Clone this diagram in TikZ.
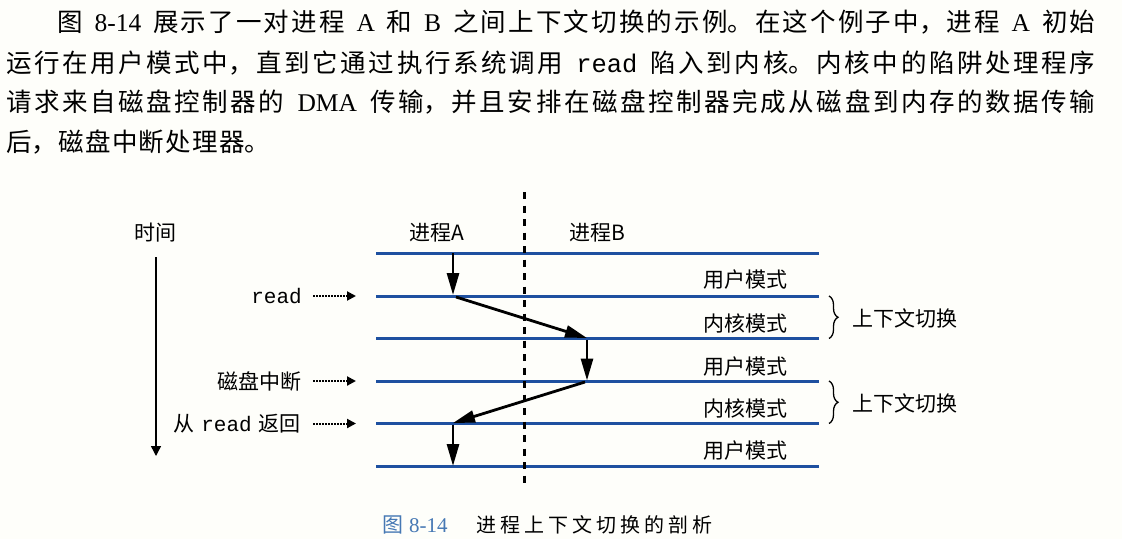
\documentclass[tikz,border=0pt]{standalone}
\usepackage{fontspec}
\setmainfont{Liberation Serif}
\newfontfamily\cjkfont{Noto Sans CJK SC}
\newfontfamily\latfont{Liberation Serif}
\newfontfamily\codefont{Liberation Mono}
\usetikzlibrary{arrows.meta,decorations.pathreplacing}
% stretchable glue between Chinese characters, used to justify the text lines
\XeTeXlinebreaklocale "zh"
\XeTeXlinebreakskip=0pt plus 1pt
\definecolor{modeblue}{RGB}{30,80,160}
\definecolor{capblue}{RGB}{70,120,180}
\definecolor{paper}{RGB}{254,254,250}
\begin{document}
\begin{tikzpicture}[x=1pt,y=-1pt,
  bodyfont/.style={font=\cjkfont\fontsize{25.5}{30}\selectfont},
  fullline/.style={anchor=west, inner sep=0pt, text width=#1, align=justify,
    execute at begin node={\tolerance=10000\hbadness=10000\parindent=0pt\parfillskip=0pt\relax\noindent}},
  lbl/.style={inner sep=0pt, font=\cjkfont\fontsize{21}{25}\selectfont},
  modeedge/.style={draw=modeblue, line width=3pt},
  flow/.style={line width=2.8pt, -{Triangle[length=22pt,width=12pt]}},
  dotarrow/.style={line width=2pt, dash pattern=on 1.8pt off 1.2pt, -{Triangle[length=9pt,width=9pt]}},
  timeline/.style={line width=1.4pt, -{Triangle[length=10pt,width=10pt]}},
  switchbrace/.style={line width=1.3pt, decorate, decoration={brace, amplitude=9pt}},
]
\useasboundingbox (0,0) rectangle (1122,539);
\fill[paper] (0,0) rectangle (1122,539);

% ---- paragraph above the figure ----
\node[bodyfont, fullline=1038pt] (p1) at (57,22.5)
  {图 {\latfont 8-14} 展示了一对进程 {\latfont A} 和 {\latfont B} 之间上下文切换的示例。在这个例子中，进程 {\latfont A} 初始};
\node[bodyfont, fullline=1089pt] (p2) at (6,63)
  {运行在用户模式中，直到它通过执行系统调用 {\codefont read} 陷入到内核。内核中的陷阱处理程序};
\node[bodyfont, fullline=1089pt] (p3) at (6,102.5)
  {请求来自磁盘控制器的 {\latfont DMA} 传输，并且安排在磁盘控制器完成从磁盘到内存的数据传输};
\node[bodyfont, fullline=264pt] (p4) at (6,142.5) {后，磁盘中断处理器。};

% ---- headings ----
\node[lbl] (time) at (155,233) {时间};
\node[lbl] (procA) at (436.5,233) {进程A};
\node[lbl] (procB) at (597,233) {进程B};

% ---- mode boundaries ----
\foreach \yy in {253,296,338.5,381,423.5,466}
  \draw[modeedge] (376,\yy) -- (819,\yy);

% process separator
\draw[line width=2.1pt, dash pattern=on 7pt off 6.5pt] (524.5,192) -- (524.5,487);

% ---- mode labels ----
\node[lbl, anchor=east] (m1) at (788,280) {用户模式};
\node[lbl, anchor=east] (m2) at (788,323) {内核模式};
\node[lbl, anchor=east] (m3) at (788,366.5) {用户模式};
\node[lbl, anchor=east] (m4) at (788,408.5) {内核模式};
\node[lbl, anchor=east] (m5) at (788,451) {用户模式};

% ---- context switch braces ----
\coordinate (s1t) at (829,296);
\coordinate (s1b) at (829,338.5);
\coordinate (s2t) at (829,381);
\coordinate (s2b) at (829,423.5);
\draw[switchbrace] (s1t) -- (s1b);
\draw[switchbrace] (s2t) -- (s2b);
\node[lbl, anchor=west] (cs1) at (852,318) {上下文切换};
\node[lbl, anchor=west] (cs2) at (852,403) {上下文切换};

% ---- time axis ----
\coordinate (t0) at (156,257);
\coordinate (t1) at (156,456);
\draw[timeline] (t0) -- (t1);

% ---- event labels ----
\node[lbl, anchor=east] (ev1) at (302,296) {\codefont read};
\node[lbl, anchor=east] (ev2) at (302,381) {磁盘中断};
\node[lbl, anchor=east] (ev3) at (301,423.5) {从\hspace{7pt}{\codefont read}\hspace{7pt}返回};
\coordinate (r1) at (356,296);
\coordinate (r2) at (356,381);
\coordinate (r3) at (356,423.5);
\draw[dotarrow] ([xshift=11pt]ev1.east) -- (r1);
\draw[dotarrow] ([xshift=11pt]ev2.east) -- (r2);
\draw[dotarrow] ([xshift=12pt]ev3.east) -- (r3);

% ---- control flow between the processes ----
\coordinate (a0) at (453,253);
\coordinate (a1) at (453,295);
\coordinate (a1d) at (456,297);
\coordinate (b1) at (587,338);
\coordinate (b1d) at (587,339.5);
\coordinate (b2) at (587,380.5);
\coordinate (b2d) at (585,382);
\coordinate (a2) at (453,423);
\coordinate (a2d) at (453,424.5);
\coordinate (a3) at (453,466);
\draw[flow] (a0) -- (a1);
\draw[flow] (a1d) -- (b1);
\draw[flow] (b1d) -- (b2);
\draw[flow] (b2d) -- (a2);
\draw[flow] (a2d) -- (a3);

% ---- caption ----
\node[anchor=west, inner sep=0pt, text=capblue, font=\cjkfont\fontsize{21}{24}\selectfont] (capnum) at (382,525)
  {图\hspace{6pt}{\latfont 8-14}};
\node[fullline=236pt, font=\cjkfont\fontsize{20}{24}\selectfont] (captext) at (476,525)
  {进程上下文切换的剖析};
\end{tikzpicture}
\end{document}
